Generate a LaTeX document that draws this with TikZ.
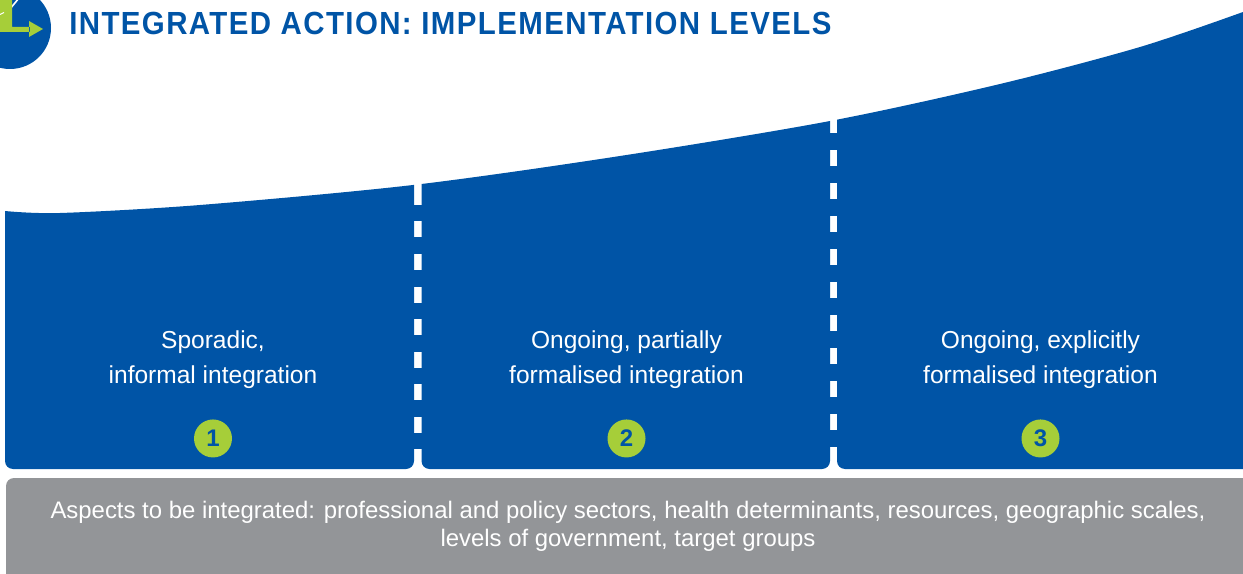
\documentclass[tikz,border=0pt]{standalone}
\usepackage{fontspec}
\setmainfont{Liberation Sans}
\newfontfamily\titlefont[FakeStretch=0.92,LetterSpace=4.4]{Liberation Sans}
\usetikzlibrary{positioning}
\definecolor{planblue}{RGB}{0,84,166}
\definecolor{plangreen}{RGB}{166,206,57}
\definecolor{plangrey}{RGB}{147,149,152}
\newcommand{\panelbody}[2]{\fill[planblue,rounded corners=6] (#1,0) rectangle (#2,469);}
\begin{document}
\begin{tikzpicture}
[x=0.75pt,y=-0.75pt,
levellabel/.style={text=white,align=center,font=\fontsize{18.4}{26}\selectfont,inner sep=0},
levelbadge/.style={circle,fill=plangreen,text=planblue,minimum size=28.5pt,inner sep=0,font=\fontsize{18}{20}\selectfont\bfseries}]
\useasboundingbox (0,0) rectangle (1243,574);
% logo
\fill[planblue] (10,28) circle (41);
\draw[white,line width=1.2pt] (19,-2) -- (10,9);
\fill[plangreen] (0,0) rectangle (12,32) (0,27) rectangle (30,32) (29,21) -- (43,29) -- (29,37) -- cycle;
\draw[white,line width=0.8pt] (0,14.5) -- (4,12.5);
\node[anchor=west,inner sep=0,text=planblue,font=\fontsize{24}{28}\selectfont\titlefont\bfseries] (title) at (69,23) {INTEGRATED ACTION: IMPLEMENTATION LEVELS};
% panels
\begin{scope}
\clip plot[smooth] coordinates {(5,211) (60,213) (200,205) (413,185) (620,156) (830,121) (1000,84) (1140,47) (1243,12)} -- (1243,574) -- (5,574) -- cycle;
\panelbody{5}{414}
\panelbody{421.5}{830}
\panelbody{837}{1260}
\foreach \y in {205,237.5,...,440} \fill[planblue] (410,\y) rectangle (425,\y+16.5);
\foreach \y in {133,166,...,440} \fill[planblue] (826,\y) rectangle (841,\y+17);
\end{scope}
\fill[plangrey,rounded corners=6] (6,478) rectangle (1260,590);
% labels
\node[levellabel] (one) at (213,359.5) {Sporadic,\\informal integration};
\node[levellabel] (two) at (626.5,359.5) {Ongoing, partially\\formalised integration};
\node[levellabel] (three) at (1040.5,359.5) {Ongoing, explicitly\\formalised integration};
\node[levelbadge,below=23pt of one.south] (badgeone) {1};
\node[levelbadge,below=23pt of two.south] (badgetwo) {2};
\node[levelbadge,below=23pt of three.south] (badgethree) {3};
\node[text=white,align=center,inner sep=0,font=\fontsize{17.94}{21}\selectfont] (aspects) at (628,526.5) {Aspects to be integrated: professional and policy sectors, health determinants, resources, geographic scales,\\levels of government, target groups};
\end{tikzpicture}
\end{document}
